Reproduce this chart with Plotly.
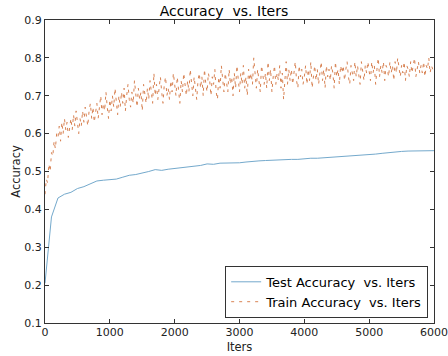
import plotly.graph_objects as go

# Test accuracy, evaluated every 100 iterations
test_iters = list(range(0, 6001, 100))
test_acc = [
    0.205, 0.38, 0.43, 0.44, 0.445, 0.455, 0.46, 0.467, 0.475, 0.477,
    0.478, 0.48, 0.485, 0.49, 0.492, 0.495, 0.50, 0.505, 0.503, 0.506,
    0.508, 0.51, 0.512, 0.514, 0.516, 0.52, 0.519, 0.522, 0.522, 0.522,
    0.523, 0.525, 0.527, 0.528, 0.529, 0.53, 0.531, 0.532, 0.532, 0.532,
    0.534, 0.535, 0.535, 0.536, 0.537, 0.538, 0.539, 0.541, 0.541, 0.543,
    0.545, 0.546, 0.548, 0.55, 0.552, 0.553, 0.554, 0.554, 0.555, 0.555,
    0.555,
]

# Train accuracy, logged every 20 iterations
train_iters = list(range(0, 6000, 20))
train_acc = [
    0.44, 0.48, 0.47, 0.52, 0.50, 0.55, 0.54, 0.58, 0.56, 0.60,
    0.59, 0.62, 0.58, 0.63, 0.60, 0.64, 0.61, 0.63, 0.59, 0.62,
    0.64, 0.61, 0.65, 0.62, 0.66, 0.63, 0.60, 0.64, 0.62, 0.66,
    0.63, 0.67, 0.64, 0.62, 0.66, 0.68, 0.64, 0.67, 0.63, 0.65,
    0.68, 0.64, 0.67, 0.70, 0.65, 0.68, 0.66, 0.71, 0.67, 0.64,
    0.69, 0.66, 0.70, 0.67, 0.72, 0.68, 0.65, 0.70, 0.67, 0.71,
    0.68, 0.72, 0.66, 0.70, 0.73, 0.69, 0.67, 0.71, 0.68, 0.74,
    0.70, 0.67, 0.72, 0.69, 0.71, 0.66, 0.73, 0.70, 0.68, 0.72,
    0.69, 0.74, 0.71, 0.68, 0.76, 0.70, 0.73, 0.69, 0.72, 0.75,
    0.71, 0.68, 0.73, 0.75, 0.70, 0.72, 0.69, 0.74, 0.71, 0.76,
    0.73, 0.70, 0.75, 0.72, 0.68, 0.74, 0.71, 0.76, 0.72, 0.70,
    0.74, 0.71, 0.77, 0.73, 0.70, 0.75, 0.72, 0.69, 0.74, 0.76,
    0.72, 0.75, 0.70, 0.77, 0.73, 0.71, 0.76, 0.74, 0.70, 0.75,
    0.73, 0.77, 0.71, 0.69, 0.75, 0.72, 0.78, 0.74, 0.71, 0.76,
    0.74, 0.71, 0.77, 0.73, 0.75, 0.70, 0.76, 0.72, 0.78, 0.74,
    0.71, 0.76, 0.73, 0.78, 0.72, 0.75, 0.70, 0.77, 0.74, 0.76,
    0.73, 0.80, 0.75, 0.72, 0.77, 0.74, 0.71, 0.78, 0.75, 0.73,
    0.76, 0.72, 0.79, 0.74, 0.77, 0.71, 0.75, 0.78, 0.73, 0.76,
    0.74, 0.78, 0.72, 0.76, 0.69, 0.75, 0.79, 0.73, 0.77, 0.74,
    0.77, 0.73, 0.76, 0.79, 0.74, 0.72, 0.78, 0.75, 0.77, 0.73,
    0.75, 0.78, 0.73, 0.77, 0.74, 0.79, 0.72, 0.76, 0.78, 0.74,
    0.77, 0.73, 0.76, 0.79, 0.74, 0.77, 0.72, 0.78, 0.75, 0.77,
    0.74, 0.78, 0.76, 0.72, 0.79, 0.75, 0.77, 0.73, 0.78, 0.76,
    0.78, 0.74, 0.77, 0.79, 0.75, 0.73, 0.78, 0.76, 0.74, 0.79,
    0.75, 0.78, 0.76, 0.73, 0.79, 0.77, 0.74, 0.78, 0.76, 0.79,
    0.77, 0.74, 0.79, 0.76, 0.78, 0.73, 0.77, 0.80, 0.75, 0.78,
    0.76, 0.79, 0.74, 0.78, 0.77, 0.75, 0.79, 0.76, 0.78, 0.74,
    0.79, 0.76, 0.80, 0.77, 0.75, 0.78, 0.76, 0.79, 0.74, 0.78,
    0.77, 0.75, 0.79, 0.76, 0.78, 0.80, 0.75, 0.77, 0.79, 0.76,
    0.78, 0.76, 0.79, 0.75, 0.78, 0.77, 0.80, 0.76, 0.78, 0.77,
]

x_ticks = [0, 1000, 2000, 3000, 4000, 5000, 6000]
y_ticks = [0.1, 0.2, 0.3, 0.4, 0.5, 0.6, 0.7, 0.8, 0.9]

FONT = "DejaVu Sans, Liberation Sans, sans-serif"
NB = "\u00a0"

fig = go.Figure()
fig.add_trace(go.Scatter(
    x=test_iters, y=test_acc, mode="lines",
    name=f"Test Accuracy{NB}{NB}vs. Iters",
    line=dict(color="#74a9cc", width=1),
))
fig.add_trace(go.Scatter(
    x=train_iters, y=train_acc, mode="lines",
    name=f"Train Accuracy{NB}{NB}vs. Iters",
    line=dict(color="#cf6429", width=1, dash="3px,5px"),
    opacity=0.8,
))

axis_common = dict(
    showgrid=False, zeroline=False, automargin=False,
    showline=True, linecolor="#333", linewidth=1, mirror="ticks",
    ticks="inside", ticklen=4, tickcolor="#333", tickwidth=1,
    tickfont=dict(family=FONT, size=11, color="#222"),
    ticklabeloverflow="allow",
)

fig.update_layout(
    width=448, height=356,
    margin=dict(l=45, r=14, t=20, b=33),
    paper_bgcolor="white", plot_bgcolor="white",
    title=dict(text=f"Accuracy{NB}{NB}vs. Iters", x=0.5, xanchor="center",
               y=1 - 11 / 356, yanchor="middle",
               font=dict(family=FONT, size=14, color="black")),
    xaxis=dict(range=[0, 6000], tickvals=x_ticks,
               ticktext=[str(v) for v in x_ticks],
               ticklabelstandoff=-1,
               title=dict(text="Iters", standoff=4,
                          font=dict(family=FONT, size=11.5, color="#222")),
               **axis_common),
    yaxis=dict(range=[0.1, 0.9], tickvals=y_ticks,
               ticktext=[f"{v:.1f}" for v in y_ticks],
               title=dict(text="Accuracy", standoff=1,
                          font=dict(family=FONT, size=11.5, color="#222")),
               **axis_common),
    legend=dict(x=0.985, y=0.017, xanchor="right", yanchor="bottom",
                bgcolor="white", bordercolor="#333", borderwidth=1,
                font=dict(family=FONT, size=13, color="black"),
                tracegroupgap=0, itemwidth=30),
    showlegend=True,
)

fig.write_html("out.html")
